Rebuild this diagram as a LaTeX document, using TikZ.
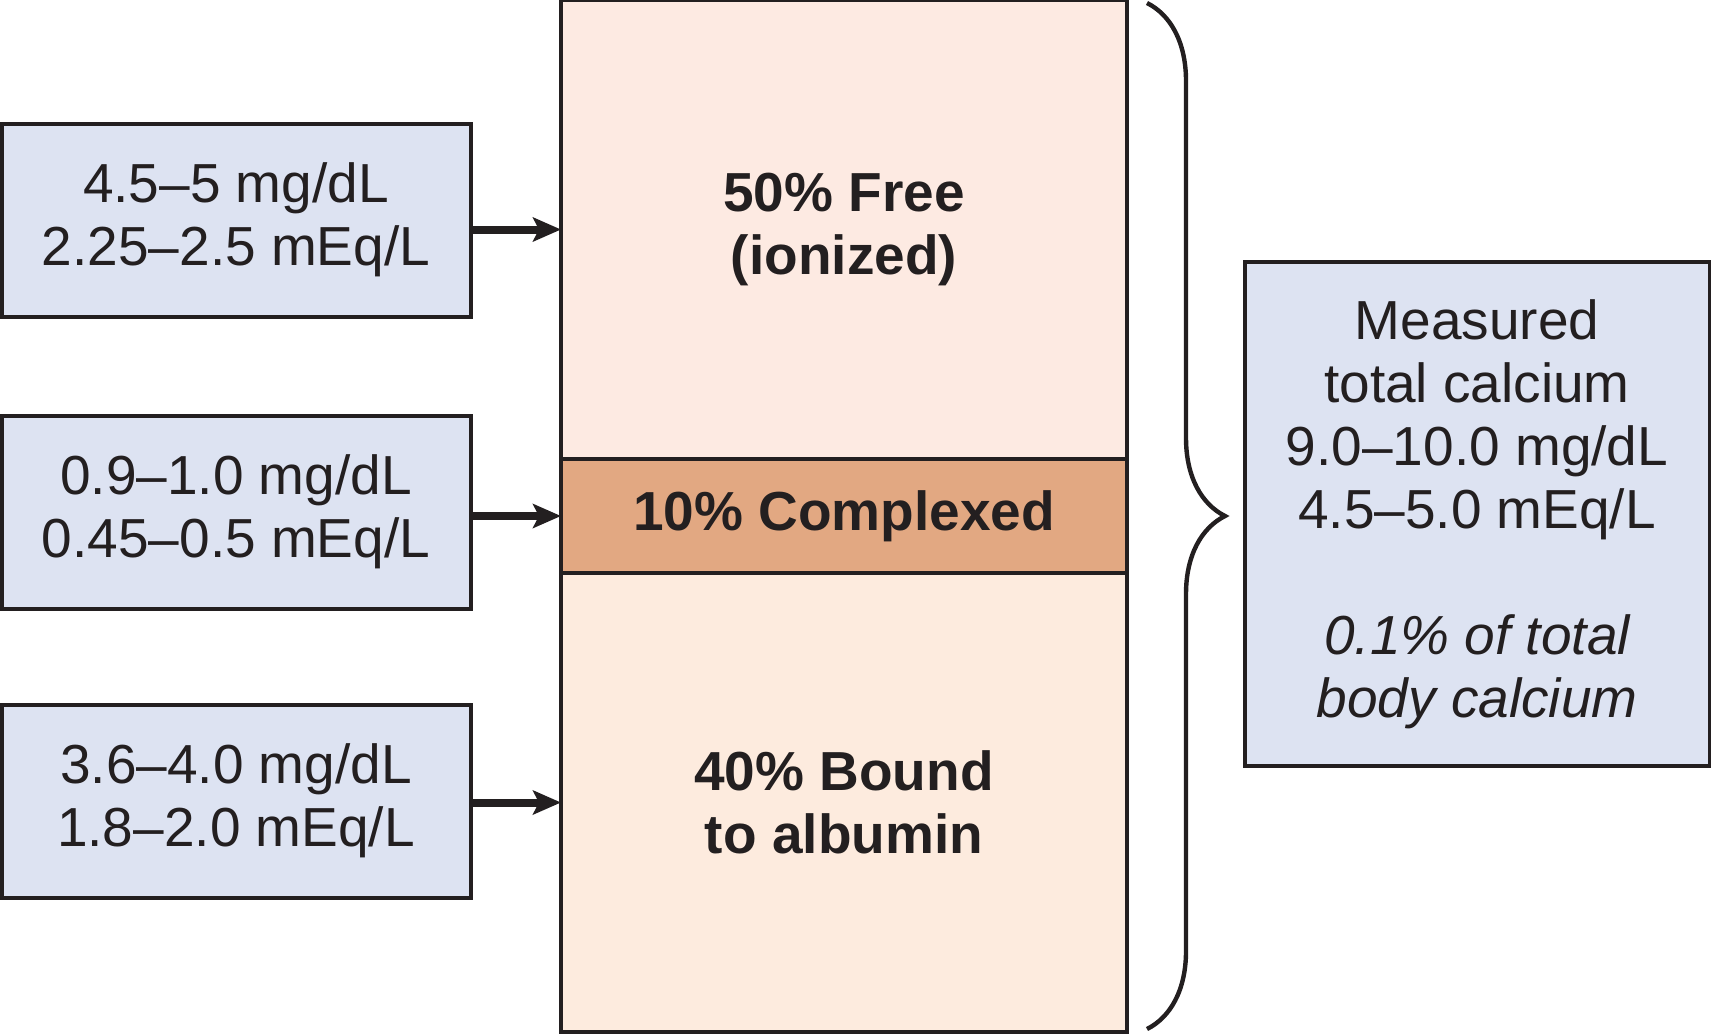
\documentclass[tikz,border=0pt]{standalone}
\usepackage{fontspec}
\setmainfont{Liberation Sans}
\usetikzlibrary{positioning,arrows.meta,decorations.pathreplacing}
\definecolor{boxblue}{RGB}{221,227,242}
\definecolor{freepink}{RGB}{253,234,226}
\definecolor{cplxtan}{RGB}{226,168,130}
\definecolor{boundpeach}{RGB}{253,235,222}
\definecolor{ink}{RGB}{35,31,32}
\newcommand{\calfont}{\fontsize{27.5}{31.5}\selectfont}
\begin{document}
\begin{tikzpicture}[x=.5pt,y=-.5pt,
    every node/.style={text=ink,font=\calfont},
    valbox/.style={draw=ink,line width=2pt,fill=boxblue,align=center,inner sep=0pt,minimum width=234.5pt,minimum height=96.5pt},
    part/.style={draw=ink,line width=2pt,align=center,inner sep=0pt,outer sep=0pt,minimum width=283pt,font=\calfont\bfseries}]
    \useasboundingbox (0,0) rectangle (1711,1035);
    % the column
    \node[part,fill=freepink,minimum height=229.5pt] (free) at (844,229.5) {50\% Free\\(ionized)};
    \node[part,fill=cplxtan,minimum height=57pt,below=0pt of free] (cplx) {10\% Complexed};
    \node[part,fill=boundpeach,minimum height=229.5pt,below=0pt of cplx] (bound) {40\% Bound\\to albumin};
    % values
    \node[valbox] (ion) at (236,220) {4.5–5 mg/dL\\2.25–2.5 mEq/L};
    \node[valbox] (cpx) at (236,512) {0.9–1.0 mg/dL\\0.45–0.5 mEq/L};
    \node[valbox] (alb) at (236,801) {3.6–4.0 mg/dL\\1.8–2.0 mEq/L};
    \foreach \b/\p in {ion/free,cpx/cplx,alb/bound}
        \draw[ink,line width=4pt,-{Stealth[length=14pt,width=12pt,inset=3pt]}] (\b.east |- \p.west) -- (\p.west);
    \draw[ink,line width=2.2pt,decorate,decoration={brace,amplitude=39pt}] (1147,3) -- (1147,1029);
    \node[valbox,minimum width=232.5pt,minimum height=252pt] (total) at (1477,514)
        {Measured\\total calcium\\9.0–10.0 mg/dL\\4.5–5.0 mEq/L\\[31.5pt]{\itshape 0.1\% of total}\\{\itshape body calcium}};
\end{tikzpicture}
\end{document}
